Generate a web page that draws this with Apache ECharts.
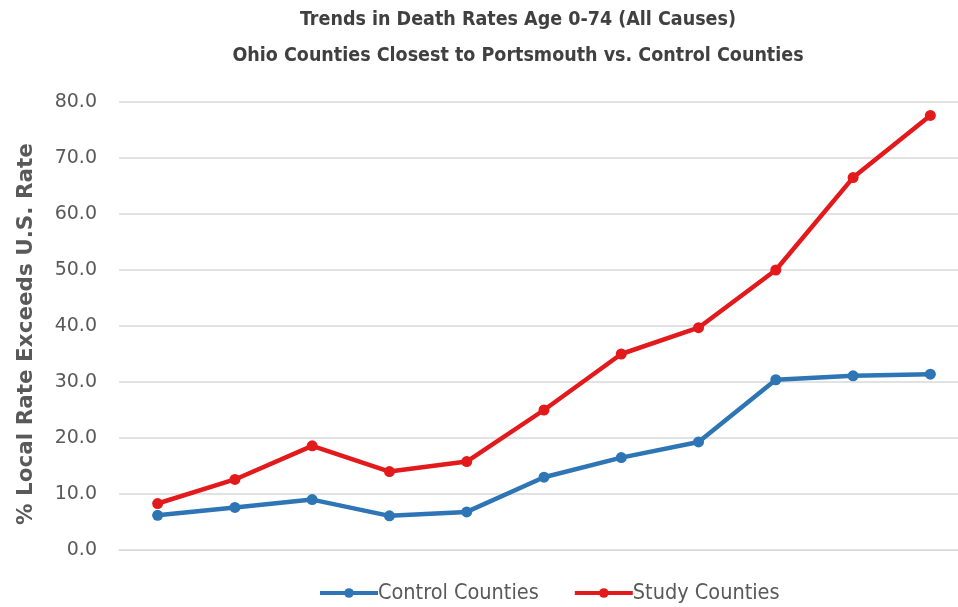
<!DOCTYPE html>
<html><head><meta charset="utf-8">
<script src="https://cdn.jsdelivr.net/npm/echarts@6/dist/echarts.min.js"></script>
<style>html,body{margin:0;padding:0;background:#fff}#c{width:958px;height:607px}</style>
</head><body><div id="c"></div>
<script>
const categories = ['1','2','3','4','5','6','7','8','9','10','11'];
const controlCounties = [6.2, 7.6, 9.0, 6.1, 6.8, 13.0, 16.5, 19.3, 30.4, 31.1, 31.4];
const studyCounties = [8.3, 12.6, 18.6, 14.0, 15.8, 25.0, 35.0, 39.7, 50.0, 66.5, 77.6];
const titleLines = ['Trends in Death Rates Age 0-74 (All Causes)', 'Ohio Counties Closest to Portsmouth vs. Control Counties'];

const chart = echarts.init(document.getElementById('c'), null, {renderer:'canvas'});
chart.setOption({
  animation:false,
  backgroundColor:'#fff',
  title:{
    text: titleLines.join('\n'),
    left: 518, top: 2, padding:0, textAlign:'center',
    textStyle:{fontFamily:'DejaVu Sans Condensed', fontSize:19.5, fontWeight:'bold', color:'#404040', lineHeight:36}
  },
  legend:{
    bottom: -2, left: 313,
    itemWidth: 58, itemHeight: 12, itemGap: 34,
    lineStyle:{width:4},
    textStyle:{fontFamily:'DejaVu Sans Condensed', fontSize:21.5, color:'#595959', padding:[0,0,0,-5]},
    data:['Control Counties','Study Counties']
  },
  grid:{left:119, width:850, top:102, bottom:57, containLabel:false, outerBoundsMode:'none'},
  xAxis:{
    type:'category', data:categories, boundaryGap:true,
    axisLine:{show:true, lineStyle:{color:'#d9d9d9', width:1}},
    axisTick:{show:false}, axisLabel:{show:false}
  },
  yAxis:{
    type:'value', min:0, max:80, interval:10,
    name:'% Local Rate Exceeds U.S. Rate', nameLocation:'middle', nameGap:82, nameRotate:90,
    nameTextStyle:{fontFamily:'DejaVu Sans', fontSize:21.5, fontWeight:'bold', color:'#595959', padding:[0,16,0,0]},
    axisLine:{show:false}, axisTick:{show:false},
    axisLabel:{formatter:v=>v.toFixed(1), fontFamily:'DejaVu Sans', fontSize:19, color:'#595959', margin:22},
    splitLine:{lineStyle:{color:'#d9d9d9', width:1.5}}
  },
  series:[
    {name:'Control Counties', type:'line', data:controlCounties, symbol:'circle', symbolSize:11,
     lineStyle:{width:4.5, color:'#2e75b6'}, itemStyle:{color:'#2e75b6'}},
    {name:'Study Counties', type:'line', data:studyCounties, symbol:'circle', symbolSize:11,
     lineStyle:{width:4.5, color:'#e31a1c'}, itemStyle:{color:'#e31a1c'}}
  ]
});
</script></body></html>
